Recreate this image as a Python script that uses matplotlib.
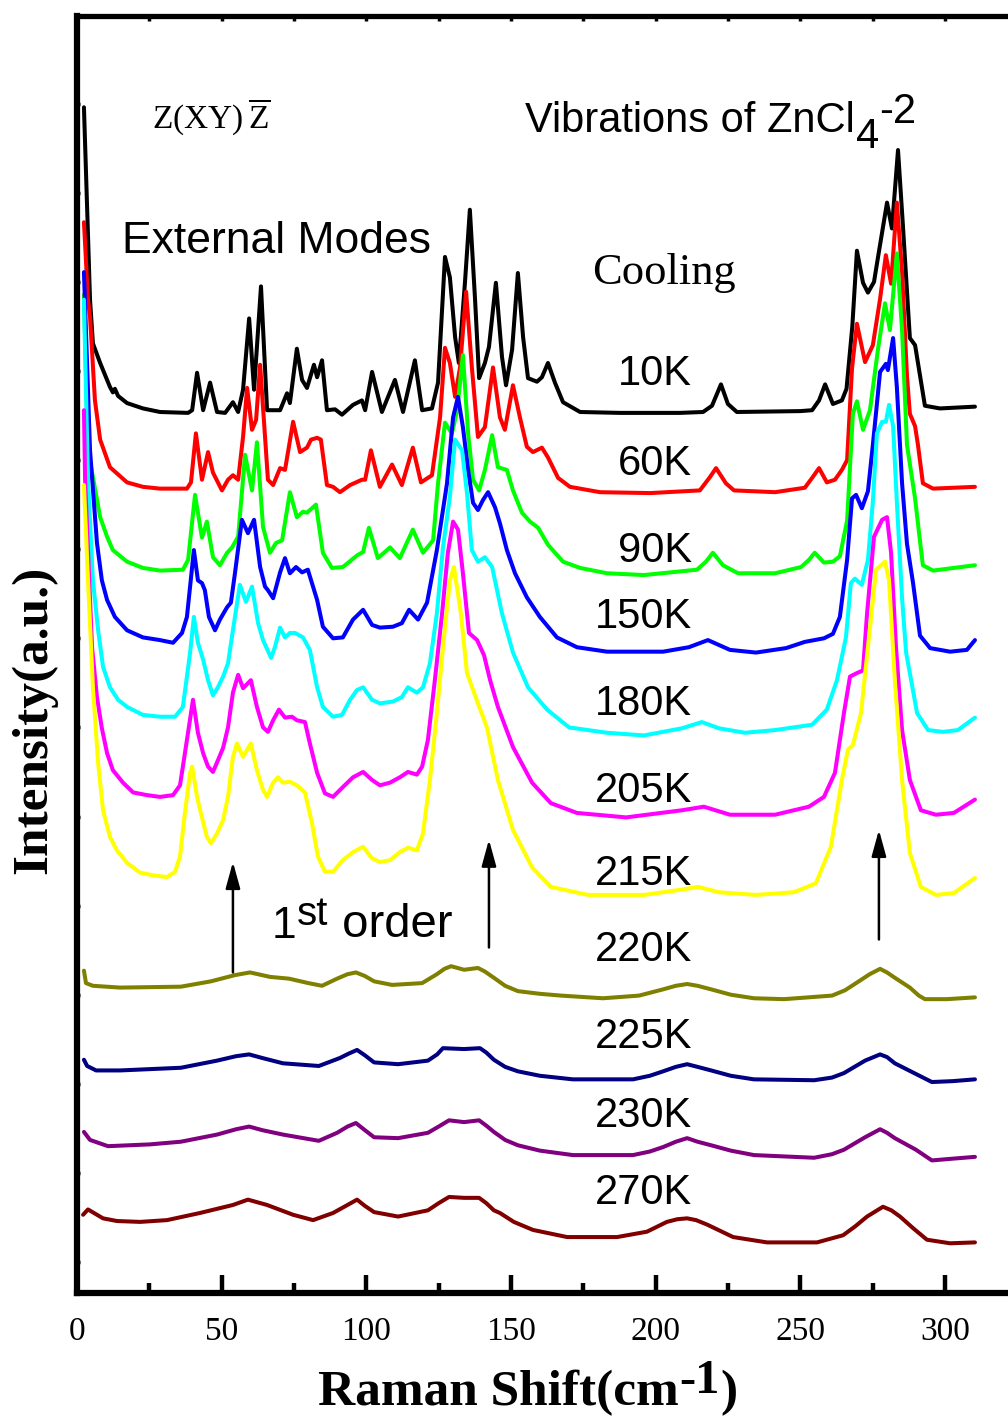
import matplotlib
matplotlib.use("Agg")
import matplotlib.pyplot as plt
from matplotlib.ticker import MultipleLocator

# Raman shift (cm^-1), stacked intensity (a.u.) for each temperature
spec_10k = [(2.4, 12.96), (4.5, 10.80), (5.5, 10.31), (8.0, 10.09), (11.4, 9.82), (12.4, 9.76), (13.1, 9.80),
            (14.2, 9.72), (17.3, 9.64), (22.8, 9.58), (28.7, 9.54), (38.4, 9.53), (39.8, 9.56), (41.5, 9.98),
            (43.6, 9.56), (46.0, 9.87), (48.4, 9.54), (51.2, 9.53), (53.9, 9.65), (55.7, 9.54), (57.4, 9.79),
            (59.5, 10.59), (61.2, 9.79), (63.6, 10.95), (65.7, 9.56), (70.2, 9.56), (72.6, 9.75), (73.6, 9.64),
            (76.0, 10.25), (77.8, 9.90), (79.5, 9.81), (81.9, 10.07), (83.0, 9.93), (84.7, 10.12), (86.4, 9.56),
            (89.2, 9.57), (91.6, 9.51), (95.4, 9.62), (98.5, 9.67), (99.6, 9.56), (102.0, 9.99), (105.4, 9.54),
            (109.9, 9.90), (112.7, 9.54), (116.8, 10.12), (119.3, 9.56), (122.7, 9.58), (124.8, 9.87),
            (127.2, 11.28), (128.9, 11.05), (130.7, 10.38), (132.0, 10.09), (134.1, 10.99), (135.8, 11.81),
            (137.6, 10.80), (139.0, 9.92), (141.0, 10.09), (142.4, 10.27), (144.8, 10.99), (146.9, 10.16),
            (148.3, 9.84), (150.4, 10.24), (152.4, 11.10), (154.2, 10.38), (155.9, 9.92), (159.0, 9.88),
            (160.7, 9.93), (162.8, 10.09), (165.2, 9.87), (168.0, 9.65), (173.9, 9.54), (187.7, 9.53),
            (208.4, 9.53), (216.4, 9.54), (219.5, 9.61), (222.6, 9.85), (225.0, 9.63), (228.1, 9.54),
            (250.0, 9.55), (254.1, 9.56), (256.5, 9.67), (258.6, 9.85), (261.3, 9.63), (264.4, 9.67),
            (266.0, 9.80), (268.0, 10.50), (269.6, 11.35), (271.7, 10.99), (273.4, 10.88), (275.5, 11.00),
            (276.9, 11.28), (280.0, 11.89), (281.7, 11.60), (283.8, 12.48), (285.5, 11.63), (287.9, 10.37),
            (289.7, 10.29), (293.1, 9.61), (298.3, 9.58), (310.4, 9.60)]

spec_60k = [(2.4, 11.67), (3.8, 10.80), (4.5, 10.61), (6.2, 9.67), (8.0, 9.23), (11.4, 8.92), (17.3, 8.75),
            (22.8, 8.70), (28.7, 8.68), (38.0, 8.68), (39.4, 8.75), (41.1, 9.30), (43.2, 8.78), (45.3, 9.09),
            (47.0, 8.86), (50.1, 8.66), (52.2, 8.78), (53.9, 8.83), (55.7, 8.78), (57.4, 9.26), (58.8, 9.81),
            (60.5, 9.34), (61.9, 9.45), (63.3, 10.07), (65.0, 9.26), (66.0, 8.78), (67.8, 8.72), (70.2, 8.91),
            (71.9, 8.89), (74.7, 9.43), (77.1, 9.09), (79.5, 9.14), (80.9, 9.23), (83.0, 9.25), (84.3, 9.23),
            (86.4, 8.72), (88.5, 8.70), (90.9, 8.64), (94.4, 8.72), (98.5, 8.78), (99.6, 8.78), (101.6, 9.11),
            (104.7, 8.70), (108.9, 8.95), (112.3, 8.72), (116.1, 9.14), (118.9, 8.75), (122.7, 8.83),
            (125.5, 9.48), (127.2, 10.26), (128.9, 10.09), (130.7, 9.71), (132.4, 10.04), (134.5, 10.89),
            (136.5, 10.04), (138.6, 9.26), (141.0, 9.37), (143.8, 10.04), (146.2, 9.48), (147.9, 9.34),
            (150.7, 9.84), (153.1, 9.48), (155.5, 9.15), (157.6, 9.09), (160.7, 9.14), (162.8, 9.03),
            (166.3, 8.80), (170.4, 8.70), (180.8, 8.64), (198.1, 8.63), (215.3, 8.66), (218.8, 8.81),
            (220.9, 8.91), (224.3, 8.74), (227.1, 8.66), (241.3, 8.64), (251.6, 8.69), (254.1, 8.80),
            (256.5, 8.91), (259.2, 8.75), (262.0, 8.78), (264.4, 8.89), (266.2, 9.00), (267.9, 10.03),
            (269.6, 10.53), (272.4, 10.10), (275.1, 10.29), (277.6, 10.81), (279.6, 11.30), (281.4, 10.98),
            (283.4, 11.89), (285.2, 11.11), (286.9, 9.94), (287.9, 9.52), (289.7, 9.38), (290.7, 9.17),
            (292.4, 8.74), (295.9, 8.68), (310.4, 8.70)]

spec_90k = [(2.4, 10.86), (3.8, 9.11), (5.5, 8.81), (8.0, 8.36), (10.4, 8.14), (12.4, 7.99), (17.3, 7.86),
            (22.8, 7.79), (28.7, 7.76), (36.6, 7.77), (38.4, 7.88), (40.8, 8.61), (43.2, 8.13), (44.9, 8.31),
            (47.0, 7.91), (49.4, 7.82), (51.9, 7.96), (53.6, 8.02), (55.7, 8.14), (58.1, 9.06), (60.5, 8.66),
            (62.2, 9.20), (64.3, 8.25), (66.7, 7.96), (68.8, 8.07), (70.9, 8.10), (73.6, 8.64), (76.0, 8.36),
            (78.1, 8.42), (79.5, 8.41), (82.6, 8.50), (85.0, 7.96), (88.1, 7.79), (91.9, 7.80), (96.8, 7.93),
            (98.9, 7.97), (100.9, 8.24), (104.0, 7.90), (108.2, 8.02), (111.6, 7.90), (116.1, 8.22),
            (119.6, 7.96), (123.1, 8.10), (124.8, 8.74), (127.2, 9.42), (129.6, 9.30), (131.4, 9.56),
            (133.4, 10.18), (135.2, 9.30), (136.9, 8.78), (139.0, 8.66), (141.0, 8.89), (143.5, 9.28),
            (145.5, 8.92), (148.6, 8.89), (150.7, 8.66), (153.8, 8.41), (156.6, 8.31), (159.4, 8.24),
            (162.8, 8.05), (168.0, 7.86), (173.9, 7.79), (183.2, 7.73), (196.0, 7.71), (214.3, 7.77),
            (217.4, 7.86), (219.8, 7.96), (223.3, 7.82), (228.5, 7.73), (241.3, 7.73), (250.3, 7.80),
            (253.0, 7.88), (255.0, 7.96), (258.2, 7.85), (261.3, 7.86), (263.7, 7.92), (266.2, 8.32),
            (268.2, 9.52), (269.6, 9.66), (271.7, 9.34), (274.1, 9.56), (276.9, 10.25), (279.3, 10.76),
            (281.0, 10.46), (283.4, 11.32), (285.2, 10.46), (286.9, 9.17), (289.7, 8.57), (291.4, 8.09),
            (292.4, 7.82), (295.9, 7.76), (310.4, 7.82)]

spec_150k = [(2.4, 11.11), (4.5, 9.11), (6.9, 8.07), (8.6, 7.65), (10.4, 7.43), (13.1, 7.24), (17.3, 7.09),
             (22.8, 7.01), (28.7, 6.98), (33.2, 6.95), (36.3, 7.06), (38.0, 7.24), (40.4, 7.99), (41.8, 7.65),
             (43.2, 7.62), (44.2, 7.54), (45.6, 7.24), (47.7, 7.09), (49.4, 7.21), (51.9, 7.35), (53.2, 7.40),
             (54.6, 7.73), (57.0, 8.33), (59.1, 8.18), (61.2, 8.33), (63.3, 7.80), (65.0, 7.58), (66.0, 7.54),
             (67.8, 7.45), (70.2, 7.74), (71.9, 7.90), (73.6, 7.73), (75.7, 7.80), (77.8, 7.74), (79.8, 7.77),
             (83.0, 7.43), (85.0, 7.13), (88.5, 7.00), (91.9, 7.01), (95.4, 7.21), (98.9, 7.32), (102.0, 7.15),
             (104.7, 7.12), (109.2, 7.13), (112.3, 7.17), (114.8, 7.32), (117.9, 7.21), (121.0, 7.40),
             (124.4, 7.99), (127.9, 8.74), (130.0, 9.48), (131.7, 9.71), (133.4, 9.37), (135.2, 8.89),
             (136.9, 8.52), (138.6, 8.44), (140.3, 8.55), (142.1, 8.64), (144.5, 8.47), (146.2, 8.29),
             (148.6, 7.99), (151.4, 7.73), (155.5, 7.46), (160.0, 7.24), (165.9, 7.01), (172.8, 6.90),
             (183.2, 6.85), (202.6, 6.85), (211.5, 6.90), (218.1, 6.98), (225.7, 6.87), (234.7, 6.84),
             (245.1, 6.89), (251.6, 6.96), (258.2, 7.00), (261.3, 7.05), (263.7, 7.24), (266.2, 7.88),
             (267.9, 8.57), (269.3, 8.61), (271.3, 8.46), (273.4, 8.65), (275.1, 9.17), (277.6, 9.99),
             (279.6, 10.08), (280.3, 10.01), (282.1, 10.37), (283.4, 9.82), (285.2, 8.74), (286.9, 8.06),
             (289.0, 7.62), (291.4, 7.03), (294.9, 6.89), (301.8, 6.85), (307.6, 6.87), (310.4, 6.98)]

spec_180k = [(2.4, 10.80), (3.8, 8.78), (5.5, 7.65), (7.3, 7.09), (9.0, 6.68), (11.4, 6.45), (14.2, 6.31),
             (17.3, 6.23), (22.8, 6.14), (28.7, 6.12), (33.9, 6.12), (36.6, 6.23), (39.1, 6.84), (40.4, 7.24),
             (41.8, 6.95), (43.6, 6.76), (45.3, 6.53), (47.0, 6.36), (48.7, 6.45), (50.5, 6.57), (52.2, 6.72),
             (53.9, 7.09), (56.3, 7.60), (58.4, 7.41), (60.5, 7.58), (62.6, 7.17), (64.3, 6.98), (67.1, 6.78),
             (68.4, 6.90), (70.2, 7.12), (71.9, 7.01), (73.6, 7.06), (75.4, 7.06), (78.1, 7.01), (80.5, 6.87),
             (83.0, 6.45), (85.0, 6.23), (88.5, 6.12), (91.6, 6.14), (94.4, 6.31), (96.8, 6.42), (98.9, 6.45),
             (102.0, 6.31), (104.7, 6.27), (109.2, 6.29), (112.3, 6.34), (114.4, 6.45), (117.5, 6.39),
             (119.6, 6.45), (122.0, 6.72), (124.4, 7.28), (126.5, 8.02), (128.9, 8.59), (130.7, 9.23),
             (133.1, 9.11), (134.8, 8.63), (136.5, 7.99), (138.6, 7.86), (141.0, 7.91), (143.5, 7.80),
             (146.9, 7.28), (150.7, 6.84), (155.9, 6.45), (162.5, 6.20), (170.1, 6.00), (183.2, 5.94),
             (196.0, 5.91), (209.1, 5.99), (216.0, 6.06), (221.9, 5.99), (230.9, 5.94), (241.3, 5.97),
             (254.1, 6.03), (259.2, 6.20), (262.7, 6.53), (265.8, 7.01), (267.5, 7.62), (268.9, 7.67),
             (271.3, 7.60), (273.4, 7.88), (275.1, 8.53), (276.5, 9.30), (278.3, 9.43), (279.6, 9.43),
             (280.7, 9.62), (282.1, 9.38), (283.4, 8.53), (285.2, 7.45), (286.6, 6.84), (290.4, 6.16),
             (294.2, 5.97), (299.3, 5.95), (304.5, 5.97), (310.4, 6.11)]

spec_205k = [(2.4, 9.56), (2.8, 8.78), (5.2, 6.90), (6.9, 6.34), (8.6, 5.99), (10.4, 5.71), (12.4, 5.52),
             (15.9, 5.38), (19.4, 5.27), (24.2, 5.24), (28.7, 5.22), (33.2, 5.24), (35.6, 5.35), (37.3, 5.71),
             (39.4, 6.16), (40.1, 6.31), (41.8, 5.94), (43.6, 5.71), (45.3, 5.56), (47.0, 5.50), (48.7, 5.63),
             (50.5, 5.77), (52.2, 6.00), (53.9, 6.39), (55.7, 6.59), (57.4, 6.44), (60.1, 6.53), (62.2, 6.23),
             (64.3, 6.00), (66.0, 5.95), (67.8, 6.08), (69.8, 6.20), (71.9, 6.11), (74.3, 6.12), (76.0, 6.08),
             (78.8, 6.06), (80.5, 5.82), (83.0, 5.49), (85.7, 5.26), (88.5, 5.22), (91.9, 5.33), (95.4, 5.44),
             (98.9, 5.50), (102.0, 5.41), (104.7, 5.35), (108.2, 5.38), (111.6, 5.44), (114.4, 5.50),
             (117.5, 5.47), (119.3, 5.56), (121.3, 5.86), (123.7, 6.53), (126.2, 7.28), (128.2, 7.96),
             (130.0, 8.31), (131.7, 8.22), (133.4, 7.73), (135.5, 7.06), (138.3, 6.98), (140.7, 6.81),
             (142.8, 6.53), (145.5, 6.23), (150.7, 5.78), (157.3, 5.38), (163.8, 5.15), (172.8, 5.04),
             (189.8, 4.99), (209.1, 5.07), (216.7, 5.11), (225.7, 5.02), (241.3, 5.02), (253.0, 5.11),
             (258.2, 5.22), (262.0, 5.49), (265.1, 6.16), (267.2, 6.57), (269.6, 6.61), (271.7, 6.64),
             (273.1, 7.28), (275.5, 8.14), (278.3, 8.33), (280.0, 8.36), (281.4, 7.96), (283.1, 6.90),
             (285.2, 5.97), (287.9, 5.41), (291.7, 5.07), (296.9, 5.02), (303.1, 5.04), (310.4, 5.19)]

spec_215k = [(2.4, 8.72), (3.8, 7.65), (5.5, 6.45), (7.3, 5.60), (9.0, 5.07), (11.4, 4.77), (13.8, 4.62),
             (17.3, 4.48), (21.8, 4.37), (26.3, 4.34), (31.1, 4.32), (33.9, 4.38), (35.6, 4.55), (37.3, 5.04),
             (39.1, 5.49), (39.8, 5.56), (41.5, 5.22), (43.2, 4.99), (44.9, 4.77), (46.3, 4.70), (48.4, 4.81),
             (50.5, 4.96), (52.2, 5.22), (53.9, 5.67), (55.3, 5.82), (57.4, 5.67), (60.1, 5.82), (62.2, 5.52),
             (64.3, 5.30), (65.7, 5.22), (67.8, 5.38), (69.5, 5.44), (71.2, 5.38), (73.6, 5.39), (76.0, 5.35),
             (78.8, 5.27), (81.2, 4.93), (83.3, 4.55), (85.7, 4.38), (88.5, 4.38), (91.9, 4.51), (95.4, 4.60),
             (98.9, 4.66), (102.0, 4.53), (104.7, 4.49), (108.2, 4.51), (111.6, 4.60), (114.4, 4.65),
             (117.5, 4.62), (119.6, 4.81), (122.0, 5.41), (124.4, 6.16), (126.5, 6.90), (128.9, 7.65),
             (130.3, 7.80), (132.7, 7.28), (134.8, 6.61), (138.6, 6.27), (141.7, 6.00), (145.5, 5.41),
             (150.7, 4.85), (157.3, 4.43), (163.8, 4.21), (176.6, 4.12), (196.0, 4.12), (209.1, 4.18),
             (214.7, 4.21), (221.9, 4.15), (234.7, 4.12), (247.8, 4.15), (255.4, 4.25), (260.6, 4.66),
             (264.4, 5.41), (266.5, 5.75), (268.2, 5.80), (271.0, 6.16), (273.4, 6.90), (276.2, 7.77),
             (279.3, 7.86), (280.7, 7.65), (282.7, 6.53), (285.2, 5.41), (287.9, 4.59), (291.7, 4.21),
             (296.9, 4.12), (303.1, 4.14), (310.4, 4.31)]

spec_220k = [(2.4, 3.27), (3.1, 3.13), (5.5, 3.10), (14.9, 3.08), (35.9, 3.09), (46.3, 3.15), (54.6, 3.22),
             (59.8, 3.25), (66.7, 3.20), (73.3, 3.18), (80.0, 3.13), (84.7, 3.10), (89.9, 3.18), (93.5, 3.23),
             (96.4, 3.25), (99.5, 3.21), (102.7, 3.15), (108.9, 3.11), (119.3, 3.13), (124.4, 3.23),
             (127.0, 3.29), (129.3, 3.32), (133.8, 3.28), (138.6, 3.30), (141.0, 3.26), (144.1, 3.19),
             (148.0, 3.10), (152.4, 3.04), (160.0, 3.01), (167.3, 2.99), (181.8, 2.96), (194.3, 2.99),
             (202.6, 3.06), (207.0, 3.10), (210.9, 3.12), (214.5, 3.10), (219.2, 3.06), (226.0, 3.00),
             (234.0, 2.96), (244.4, 2.95), (261.0, 2.99), (265.5, 3.05), (269.3, 3.13), (274.0, 3.23),
             (277.6, 3.29), (280.0, 3.25), (282.7, 3.19), (287.9, 3.08), (291.0, 2.99), (293.1, 2.95),
             (300.7, 2.95), (310.4, 2.97)]

spec_225k = [(2.4, 2.27), (3.5, 2.20), (6.6, 2.15), (14.9, 2.15), (35.9, 2.18), (48.4, 2.26), (55.0, 2.31),
             (59.5, 2.33), (64.0, 2.29), (71.2, 2.23), (83.6, 2.20), (90.9, 2.29), (94.0, 2.34), (96.8, 2.38),
             (99.5, 2.32), (102.7, 2.24), (111.0, 2.22), (121.3, 2.26), (124.5, 2.33), (126.5, 2.40),
             (133.8, 2.39), (139.3, 2.40), (141.5, 2.35), (144.1, 2.27), (148.0, 2.19), (152.4, 2.14),
             (160.0, 2.09), (171.4, 2.05), (192.2, 2.05), (198.0, 2.09), (202.6, 2.14), (207.0, 2.19),
             (210.9, 2.22), (214.5, 2.19), (219.2, 2.15), (226.0, 2.09), (234.0, 2.05), (254.8, 2.04),
             (261.0, 2.07), (265.1, 2.12), (272.4, 2.26), (277.6, 2.33), (280.0, 2.30), (282.7, 2.23),
             (290.0, 2.11), (295.5, 2.02), (302.8, 2.03), (310.4, 2.05)]

spec_230k = [(2.4, 1.46), (4.5, 1.37), (10.7, 1.30), (25.2, 1.32), (35.9, 1.35), (48.4, 1.43), (55.0, 1.49),
             (59.5, 1.52), (64.0, 1.48), (71.2, 1.43), (83.6, 1.36), (89.9, 1.45), (93.5, 1.52), (96.4, 1.56),
             (99.5, 1.48), (102.7, 1.40), (111.0, 1.39), (121.3, 1.45), (125.0, 1.52), (128.6, 1.59),
             (133.8, 1.57), (139.0, 1.59), (141.5, 1.53), (144.1, 1.46), (148.0, 1.37), (152.4, 1.31),
             (160.0, 1.25), (171.4, 1.20), (192.2, 1.20), (198.0, 1.24), (202.6, 1.29), (207.0, 1.35),
             (210.9, 1.39), (214.5, 1.35), (219.2, 1.31), (226.0, 1.25), (234.0, 1.20), (254.8, 1.17),
             (261.0, 1.21), (265.1, 1.26), (272.4, 1.40), (277.6, 1.49), (280.0, 1.45), (282.7, 1.39),
             (290.0, 1.26), (295.5, 1.14), (302.8, 1.16), (310.4, 1.18)]

spec_270k = [(2.1, 0.53), (3.8, 0.59), (6.9, 0.53), (9.0, 0.49), (13.8, 0.46), (21.8, 0.45), (31.1, 0.47),
             (42.5, 0.55), (53.9, 0.64), (59.1, 0.70), (65.7, 0.64), (74.7, 0.53), (81.6, 0.47), (88.5, 0.55),
             (93.5, 0.64), (96.8, 0.70), (99.5, 0.63), (102.7, 0.56), (111.0, 0.51), (121.3, 0.58),
             (125.0, 0.66), (128.6, 0.73), (133.8, 0.72), (139.0, 0.72), (141.5, 0.66), (144.1, 0.58),
             (146.2, 0.55), (151.0, 0.45), (157.6, 0.36), (169.4, 0.28), (186.7, 0.28), (197.0, 0.34),
             (203.9, 0.45), (207.5, 0.48), (210.9, 0.49), (214.0, 0.47), (217.8, 0.42), (226.8, 0.28),
             (238.5, 0.22), (255.8, 0.22), (264.8, 0.30), (269.0, 0.40), (273.1, 0.51), (278.6, 0.62),
             (281.5, 0.58), (284.5, 0.51), (289.0, 0.38), (293.8, 0.25), (301.8, 0.21), (310.4, 0.22)]

spectra = [spec_10k, spec_60k, spec_90k, spec_150k, spec_180k, spec_205k, spec_215k,
           spec_220k, spec_225k, spec_230k, spec_270k]
temperatures = ["10K", "60K", "90K", "150K", "180K", "205K", "215K", "220K", "225K", "230K", "270K"]
line_colors = ["#000000", "#ff0000", "#00ff00", "#0000ff", "#00ffff", "#ff00ff", "#ffff00",
               "#808000", "#000080", "#800080", "#800000"]
label_levels = [9.84, 8.83, 7.86, 7.12, 6.14, 5.16, 4.23, 3.38, 2.40, 1.51, 0.65]

# upward arrows marking the first-order modes
arrow_shifts = [53.9, 142.4, 277.2]
arrow_tails = [3.25, 3.53, 3.62]
arrow_heads = [4.49, 4.74, 4.85]

SANS = ["Liberation Sans", "DejaVu Sans"]
SERIF = ["Liberation Serif", "DejaVu Serif"]
plt.rcParams["font.family"] = SERIF

fig = plt.figure(figsize=(10.08, 14.16), dpi=100)
ax = fig.add_axes([0.07639, 0.08686, 0.93274, 0.90219])

for spec, color in zip(spectra, line_colors):
    xs = [p[0] for p in spec]
    ys = [p[1] for p in spec]
    ax.plot(xs, ys, color=color, lw=2.9, solid_joinstyle="round", solid_capstyle="round")

ax.set_xlim(0, 325)
ax.set_ylim(-0.348, 13.99)

# small ticks along the top spine
top = ax.twiny()
top.set_xlim(ax.get_xlim())
top.xaxis.set_major_locator(MultipleLocator(25))
top.tick_params(axis="x", direction="in", length=3.5, width=2.5, labeltop=False, top=True)
for s in top.spines.values():
    s.set_visible(False)

ax.xaxis.set_major_locator(MultipleLocator(50))
ax.xaxis.set_minor_locator(MultipleLocator(25))
ax.tick_params(axis="x", which="major", direction="in", length=13, width=3.2, pad=17, labelsize=24)
ax.tick_params(axis="x", which="minor", direction="in", length=7, width=3.2)
ax.yaxis.set_major_locator(MultipleLocator(1))
ax.tick_params(axis="y", which="major", direction="inout", length=5, width=2.5, labelleft=False)

for side, lw in (("left", 4.5), ("bottom", 4.5), ("top", 3.8), ("right", 4.5)):
    ax.spines[side].set_linewidth(lw)


def follow(prev, s, dy, **kw):
    """Place text s right after the text artist prev, shifted vertically by dy points."""
    return ax.annotate(s, xy=(1, 0), xycoords=prev, xytext=(0.5, dy),
                       textcoords="offset points", ha="left", va="bottom", **kw)


for t, lvl in zip(temperatures, label_levels):
    ax.text(212.6, lvl, t, ha="right", va="baseline", family=SANS, fontsize=30)

ax.text(25.9, 12.73, r"Z(XY)$\,\overline{\mathregular{Z}}$", family=SERIF, fontsize=24, va="baseline")

vib = ax.text(154.9, 12.68, "Vibrations of ZnCl", family=SANS, fontsize=30, va="baseline")
sub4 = follow(vib, "4", -11.5, family=SANS, fontsize=30)
follow(sub4, "-2", 18.5, family=SANS, fontsize=30)

ax.text(15.6, 11.32, "External Modes", family=SANS, fontsize=32, va="baseline")
ax.text(178.0, 10.98, "Cooling", family=SERIF, fontsize=32, va="baseline")

one = ax.text(67.4, 3.64, "1", family=SANS, fontsize=32, va="baseline")
st = follow(one, "st", 10, family=SANS, fontsize=29)
follow(st, " order", -10, family=SANS, fontsize=34)

for x0, y0, y1 in zip(arrow_shifts, arrow_tails, arrow_heads):
    ax.annotate("", xy=(x0, y1), xytext=(x0, y0),
                arrowprops=dict(arrowstyle="-|>,head_length=0.8,head_width=0.22", lw=1.8,
                                color="black", shrinkA=0, shrinkB=0, mutation_scale=20))

ax.set_xlabel("Raman Shift(cm", family=SERIF, fontweight="bold", fontsize=37,
              ha="left", va="baseline")
ax.xaxis.set_label_coords(0.2564, -0.0876)
sup = follow(ax.xaxis.label, "-1", 9, family=SERIF, fontweight="bold", fontsize=35)
follow(sup, ")", -9, family=SERIF, fontweight="bold", fontsize=37)

ax.set_ylabel("Intensity(a.u.)", family=SERIF, fontweight="bold", fontsize=37)
ax.yaxis.set_label_coords(-0.021, 0.4485)

fig.savefig("out.png", dpi=100)
